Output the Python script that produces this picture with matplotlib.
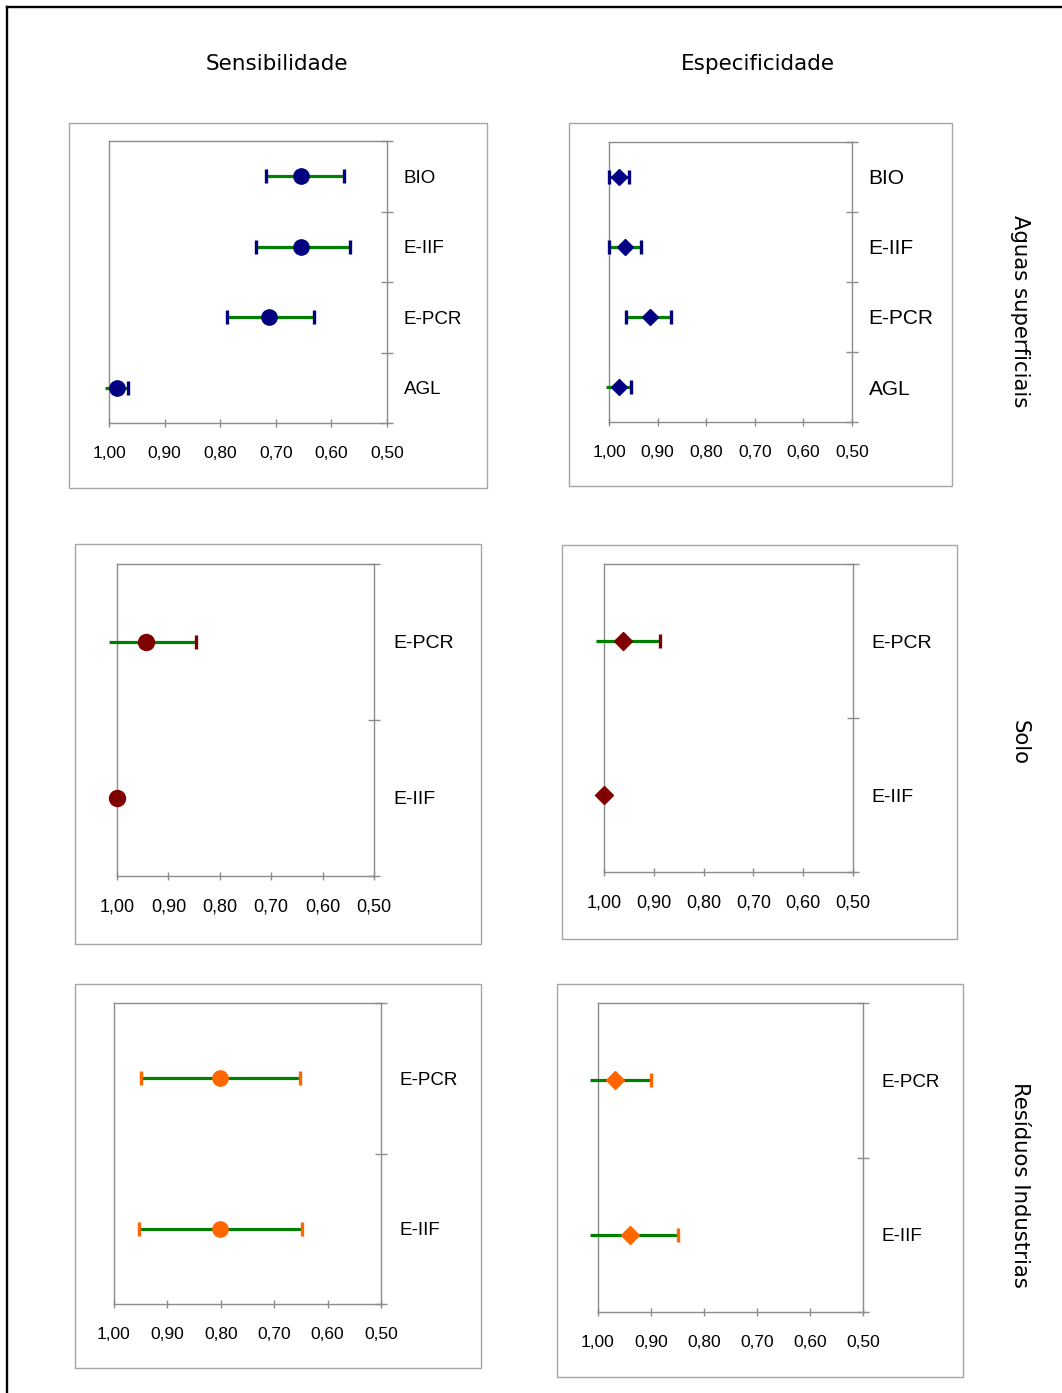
import matplotlib
matplotlib.use("Agg")
import matplotlib.pyplot as plt
from matplotlib.patches import Rectangle
from matplotlib.lines import Line2D
from matplotlib.ticker import FixedLocator

# ---- data ---------------------------------------------------------------
x_ticks = [1.00, 0.90, 0.80, 0.70, 0.60, 0.50]
x_tick_labels = ["1,00", "0,90", "0,80", "0,70", "0,60", "0,50"]

col_titles = ["Sensibilidade", "Especificidade"]
row_titles = ["Aguas superficiais", "Solo", "Resíduos Industrias"]

aguas_cats = ["BIO", "E-IIF", "E-PCR", "AGL"]
sens_aguas_est = [0.654, 0.654, 0.712, 0.986]
sens_aguas_lo = [0.577, 0.567, 0.631, 0.966]
sens_aguas_hi = [0.718, 0.736, 0.787, 1.007]
spec_aguas_est = [0.979, 0.967, 0.916, 0.979]
spec_aguas_lo = [0.959, 0.935, 0.873, 0.954]
spec_aguas_hi = [1.000, 1.000, 0.964, 1.007]

solo_cats = ["E-PCR", "E-IIF"]
sens_solo_est = [0.944, 1.000]
sens_solo_lo = [0.846, 1.000]
sens_solo_hi = [1.016, 1.000]
spec_solo_est = [0.962, 1.000]
spec_solo_lo = [0.888, 1.000]
spec_solo_hi = [1.017, 1.000]

res_cats = ["E-PCR", "E-IIF"]
sens_res_est = [0.802, 0.802]
sens_res_lo = [0.651, 0.648]
sens_res_hi = [0.949, 0.953]
spec_res_est = [0.967, 0.940]
spec_res_lo = [0.900, 0.850]
spec_res_hi = [1.016, 1.016]

# ---- figure -------------------------------------------------------------
W, H = 1062, 1393
DPI = 100
fig = plt.figure(figsize=(W / DPI, H / DPI), dpi=DPI)
fig.patch.set_facecolor("white")

LABEL_FONT = ["Liberation Sans", "DejaVu Sans"]
TITLE_FONT = ["DejaVu Sans"]
GREEN = "#008000"
SPINE = "#8c8c8c"


def fx(px):
    return px / W


def fy(py):
    return 1 - py / H


def add_box(x0, y0, x1, y1):
    fig.patches.append(Rectangle((fx(x0), fy(y1)), fx(x1) - fx(x0), fy(y0) - fy(y1),
                                 transform=fig.transFigure, facecolor="none",
                                 edgecolor="#a6a6a6", linewidth=1.0, zorder=-1))


def panel(axes_px, box_px, cats, est, lo, hi, color, marker, msize,
          cat_size, tick_size, cat_pad):
    add_box(*box_px)
    l, t, r, b = axes_px
    ax = fig.add_axes([fx(l), fy(b), fx(r) - fx(l), fy(t) - fy(b)])
    ax.set_facecolor("none")
    n = len(cats)
    ys = list(range(n))
    ax.set_xlim(1.0, 0.5)
    ax.set_ylim(n - 0.5, -0.5)
    for sp in ax.spines.values():
        sp.set_color(SPINE)
        sp.set_linewidth(1.0)

    # x axis
    ax.set_xticks(x_ticks)
    ax.set_xticklabels(x_tick_labels, fontsize=tick_size, family=LABEL_FONT)
    ax.tick_params(axis="x", direction="inout", length=6, width=1.0,
                   color=SPINE, pad=13.5)

    # categories on the right, tick marks between categories
    ax.yaxis.tick_right()
    ax.set_yticks(ys)
    ax.set_yticklabels(cats, fontsize=cat_size, family=LABEL_FONT)
    ax.yaxis.set_minor_locator(FixedLocator([k - 0.5 for k in range(n + 1)]))
    ax.tick_params(axis="y", which="major", length=0, pad=cat_pad + 5)
    ax.tick_params(axis="y", which="minor", direction="inout", length=9,
                   width=1.0, color=SPINE, right=True, left=False)

    for y, e, a, c in zip(ys, est, lo, hi):
        if c > a:
            ax.plot([a, c], [y, y], color=GREEN, lw=2.3, solid_capstyle="butt",
                    clip_on=False, zorder=3)
            caps = [bound for bound in (a, c) if bound <= 1.0]
            ax.plot(caps, [y] * len(caps), marker="|", markersize=9.5,
                    markeredgewidth=2.4, color=color, linestyle="none",
                    clip_on=False, zorder=4)
        ax.plot([e], [y], marker=marker, markersize=msize, color=color,
                markeredgecolor=color, linestyle="none", clip_on=False, zorder=5)
    return ax


NAVY = "#000080"
DARKRED = "#800000"
ORANGE = "#ff6600"

panel((109, 141, 387, 423), (69, 123, 487, 488), aguas_cats,
      sens_aguas_est, sens_aguas_lo, sens_aguas_hi, NAVY, "o", 11, 13.5, 12.5, 7)
panel((609, 142, 852, 422), (569, 123, 952, 486), aguas_cats,
      spec_aguas_est, spec_aguas_lo, spec_aguas_hi, NAVY, "D", 8.3, 15, 12.5, 7)
panel((117, 564, 374, 876), (75, 544, 481, 944), solo_cats,
      sens_solo_est, sens_solo_lo, sens_solo_hi, DARKRED, "o", 11.5, 14, 13, 9)
panel((604, 564, 853, 872), (562, 545, 957, 939), solo_cats,
      spec_solo_est, spec_solo_lo, spec_solo_hi, DARKRED, "D", 9, 14, 13, 8)
panel((114, 1003, 381, 1304), (75, 984, 481, 1368), res_cats,
      sens_res_est, sens_res_lo, sens_res_hi, ORANGE, "o", 11, 13.5, 12.5, 8)
panel((598, 1003, 863, 1312), (557, 984, 963, 1377), res_cats,
      spec_res_est, spec_res_lo, spec_res_hi, ORANGE, "D", 8.7, 13.5, 12.5, 8)

# column and row headings
for x, txt in zip((277, 758), col_titles):
    fig.text(fx(x), fy(64), txt, ha="center", va="center", fontsize=15.5,
             family=TITLE_FONT)
for y, txt in zip((311, 742, 1185), row_titles):
    fig.text(fx(1020), fy(y), txt, ha="center", va="center", fontsize=15.3,
             rotation=-90, family=TITLE_FONT)

# black frame on the top and left edges
fig.add_artist(Line2D([fx(7), 1], [fy(7), fy(7)], transform=fig.transFigure,
                      color="black", lw=1.7))
fig.add_artist(Line2D([fx(7), fx(7)], [fy(7), 0], transform=fig.transFigure,
                      color="black", lw=1.7))

fig.savefig("out.png", dpi=DPI, facecolor="white")
